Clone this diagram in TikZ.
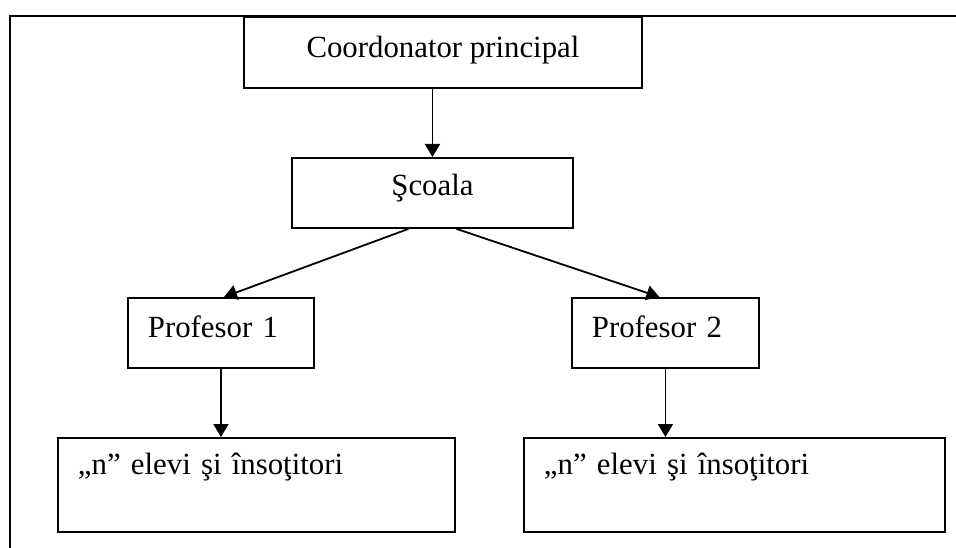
\documentclass[tikz,border=0pt]{standalone}
\usepackage{fontspec}
\setmainfont{Liberation Serif}
\usetikzlibrary{positioning,calc,arrows.meta}
\tikzset{
  orgfont/.style={font=\fontsize{30.8}{36}\selectfont},
  orgbox/.style={draw, line width=1.9pt, inner sep=0pt, anchor=north west},
  orgboxleft/.style={orgbox, align=left, inner xsep=20pt},
  orgarrow/.style={-{Triangle[length=13pt, width=15pt]}, line width=1.8pt},
  orgframe/.style={line width=2.2pt},
}

\begin{document}
\begin{tikzpicture}[orgfont, x=1pt, y=-1pt]
  \useasboundingbox (0,0) rectangle (956,548);
  % outer frame (only top and left side show)
  \draw[orgframe] (956,15.7) -- (10,15.7) -- (10,548);

  % top levels
  \node[orgbox, minimum width=398pt, text height=41pt, text depth=30pt] (coord) at (243,16)
    {Coordonator principal};
  \node[orgbox, minimum width=281pt, text height=38pt, text depth=32pt] (scoala) at (291,157)
    {Şcoala};

  % teachers
  \node[orgboxleft, text width=146pt, text height=40pt, text depth=30pt] (prof1) at (127,297)
    {Profesor 1};
  \node[orgboxleft, text width=147pt, text height=40pt, text depth=30pt] (prof2) at (571,297)
    {Profesor 2};

  % pupils
  \node[orgboxleft, text width=357pt, text height=37pt, text depth=57pt] (elevi1) at (57,437)
    {„n” elevi şi însoţitori};
  \node[orgboxleft, text width=381pt, text height=37pt, text depth=57pt] (elevi2) at (523,437)
    {„n” elevi şi însoţitori};

  % arrows
  \draw[orgarrow] (coord.south -| scoala.north) -- (scoala.north);
  \draw[orgarrow] ($(scoala.south)+(-24,0)$) -- ($(prof1.north)+(3,0)$);
  \draw[orgarrow] ($(scoala.south)+(24,0)$) -- ($(prof2.north)+(-6,0)$);
  \draw[orgarrow] (prof1.south) -- (prof1.south |- elevi1.north);
  \draw[orgarrow] (prof2.south) -- (prof2.south |- elevi2.north);
\end{tikzpicture}
\end{document}
